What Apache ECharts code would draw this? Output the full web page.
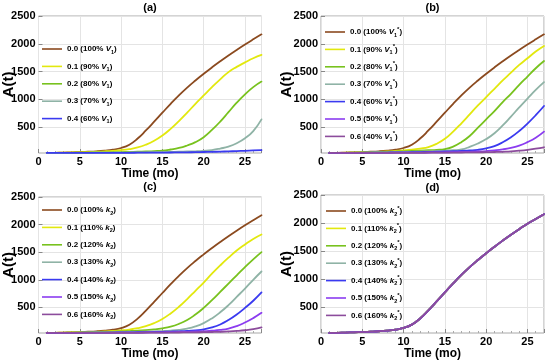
<!DOCTYPE html>
<html>
<head>
<meta charset="utf-8">
<script src="https://cdn.jsdelivr.net/npm/echarts@6/dist/echarts.min.js"></script>
<style>
  html, body { margin: 0; padding: 0; background: #fff; }
  #chart { width: 550px; height: 362px; }
</style>
</head>
<body>
<div id="chart"></div>
<script>
// ---- data ----
const months = [1,2,3,4,5,6,7,8,9,10,11,12,13,14,15,16,17,18,19,20,21,22,23,24,25,26,27];
const xTicks = [0,5,10,15,20,25];
const yTicks = [500,1000,1500,2000,2500];

// panel (a): fraction of V1
const labelsA = ['0.0 (100% V1)','0.1 (90% V1)','0.2 (80% V1)','0.3 (70% V1)','0.4 (60% V1)'];
const aV100 = [36,39,43,47,52,58,66,78,95,125,185,295,440,598,760,920,1072,1212,1340,1460,1575,1685,1790,1890,1987,2080,2170];
const aV90  = [36,38,41,44,48,52,58,65,74,86,105,135,185,255,350,470,610,760,920,1070,1220,1360,1490,1585,1665,1740,1800];
const aV80  = [36,37,38,39,41,43,45,47,49,52,55,59,64,70,78,98,125,170,230,320,450,600,770,940,1090,1220,1320];
const aV70  = [36,36,37,37,38,39,40,41,42,43,44,46,48,50,52,55,58,62,66,74,88,115,150,210,300,430,640];
const aV60  = [36,36,36,36,37,37,37,38,38,39,39,40,41,42,43,44,46,48,50,53,56,60,64,69,75,81,88];

// panel (b): fraction of V1*
const labelsB = ['0.0 (100% V1*)','0.1 (90% V1*)','0.2 (80% V1*)','0.3 (70% V1*)','0.4 (60% V1*)','0.5 (50% V1*)','0.6 (40% V1*)'];
const bV100 = [36,39,43,47,52,58,66,78,95,125,185,295,440,598,760,920,1072,1212,1340,1460,1575,1685,1790,1890,1987,2080,2170];
const bV90  = [36,38,40,43,47,51,56,63,72,82,95,115,142,200,290,420,570,730,890,1040,1190,1340,1480,1620,1740,1860,1960];
const bV80  = [36,37,39,41,44,47,51,55,60,66,72,78,85,92,105,150,230,340,490,640,790,950,1100,1260,1410,1560,1690];
const bV70  = [36,37,38,39,41,43,45,47,50,53,56,60,64,69,75,85,100,145,205,285,390,530,690,855,1015,1170,1310];
const bV60  = [36,36,37,38,39,40,42,43,45,47,49,52,55,58,62,67,73,80,92,118,160,228,318,430,565,715,880];
const bV50  = [36,36,36,37,37,38,38,39,40,41,42,43,44,46,48,50,53,57,62,70,82,100,128,168,230,310,420];
const bV40  = [36,36,36,36,36,37,37,37,38,38,39,39,40,41,42,43,44,46,48,50,53,57,63,76,92,112,138];

// panel (c): fraction of k2
const labelsC = ['0.0 (100% k2)','0.1 (110% k2)','0.2 (120% k2)','0.3 (130% k2)','0.4 (140% k2)','0.5 (150% k2)','0.6 (160% k2)'];
const cK100 = [36,39,43,47,52,58,66,78,95,125,185,295,440,598,760,920,1072,1212,1340,1460,1575,1685,1790,1890,1987,2080,2170];
const cK110 = [36,38,41,44,48,52,57,63,71,82,98,122,160,215,290,390,510,650,800,950,1110,1260,1400,1530,1640,1740,1820];
const cK120 = [36,37,39,41,44,47,50,54,58,63,70,78,88,100,120,150,200,270,370,490,630,780,930,1080,1230,1370,1500];
const cK130 = [36,37,38,39,40,42,44,46,48,50,53,56,60,65,70,78,92,115,155,215,300,410,540,690,840,1000,1150];
const cK140 = [36,36,37,38,39,40,41,42,43,45,47,49,51,54,57,61,66,73,84,100,135,190,270,370,490,620,770];
const cK150 = [36,36,36,37,37,38,38,39,40,41,42,43,44,46,48,50,53,57,62,68,76,90,115,160,225,305,400];
const cK160 = [36,36,36,36,36,37,37,37,38,38,39,39,40,41,42,43,44,46,48,50,53,57,63,72,85,105,135];

// panel (d): fraction of k2* (all curves coincide)
const labelsD = ['0.0 (100% k2*)','0.1 (110% k2*)','0.2 (120% k2*)','0.3 (130% k2*)','0.4 (140% k2*)','0.5 (150% k2*)','0.6 (160% k2*)'];
const dK100 = [36,39,43,47,52,58,66,78,95,125,185,295,440,598,760,920,1072,1212,1340,1460,1575,1685,1790,1890,1987,2070,2155];
const dK110 = [36,39,43,47,52,58,66,78,95,125,185,295,440,598,760,920,1072,1212,1340,1460,1575,1685,1790,1890,1987,2070,2155];
const dK120 = [36,39,43,47,52,58,66,78,95,125,185,295,440,598,760,920,1072,1212,1340,1460,1575,1685,1790,1890,1987,2070,2155];
const dK130 = [36,39,43,47,52,58,66,78,95,125,185,295,440,598,760,920,1072,1212,1340,1460,1575,1685,1790,1890,1987,2070,2155];
const dK140 = [36,39,43,47,52,58,66,78,95,125,185,295,440,598,760,920,1072,1212,1340,1460,1575,1685,1790,1890,1987,2070,2155];
const dK150 = [36,39,43,47,52,58,66,78,95,125,185,295,440,598,760,920,1072,1212,1340,1460,1575,1685,1790,1890,1987,2070,2155];
const dK160 = [36,39,43,47,52,58,66,78,95,125,185,295,440,598,760,920,1072,1212,1340,1460,1575,1685,1790,1890,1987,2070,2155];

const panelTitles = ['(a)','(b)','(c)','(d)'];

// ---- styling / layout ----
const colors = ['#8b4a1f','#e2e80e','#78c21e','#8fb3a6','#3a3af0','#8b3cf0','#8c4c9c'];
const FONT = 'Liberation Sans, Arial, sans-serif';
const layout = [
  {left: 38.5, top: 16,  width: 223, height: 137, legLeft: 42,  legTop: 43,  yNameGap: 22, titleY: 8},
  {left: 321,  top: 16,  width: 223, height: 137, legLeft: 325, legTop: 26,  yNameGap: 27, titleY: 8},
  {left: 38.5, top: 197, width: 223, height: 136, legLeft: 42,  legTop: 204, yNameGap: 22, titleY: 187},
  {left: 321,  top: 195, width: 223, height: 138, legLeft: 326, legTop: 205, yNameGap: 27, titleY: 188}
];
const panelData = [
  {labels: labelsA, sets: [aV100,aV90,aV80,aV70,aV60]},
  {labels: labelsB, sets: [bV100,bV90,bV80,bV70,bV60,bV50,bV40]},
  {labels: labelsC, sets: [cK100,cK110,cK120,cK130,cK140,cK150,cK160]},
  {labels: labelsD, sets: [dK100,dK110,dK120,dK130,dK140,dK150,dK160]}
];

function legendFmt(name) {
  const m = name.match(/^(.*% )([Vk])(\d)(\*?)\)$/);
  if (!m) return '{n|' + name + '}';
  let s = '{n|' + m[1] + '}{i|' + m[2] + '}{sub|' + m[3] + '}';
  if (m[4]) s += '{sup|' + m[4] + '}';
  return s + '{n|)}';
}

const grid = [], xAxis = [], yAxis = [], legend = [], series = [], graphic = [];
layout.forEach((L, p) => {
  grid.push({left: L.left, top: L.top, width: L.width, height: L.height, outerBoundsMode: 'none',
             containLabel: false,
             show: true, borderColor: '#a8a8a8', borderWidth: 1, backgroundColor: 'transparent'});
  xAxis.push({
    type: 'value', gridIndex: p, min: 0, max: 27, interval: 5,
    name: 'Time (mo)', nameLocation: 'middle', nameGap: 15, nameMoveOverlap: false,
    nameTextStyle: {fontFamily: FONT, fontWeight: 'bold', fontSize: 12, color: '#000'},
    axisLine: {show: false},
    axisTick: {show: true, inside: true, length: 4, lineStyle: {color: '#888'}},
    minorTick: {show: true, splitNumber: 5, length: 2, lineStyle: {color: '#aaa'}},
    axisLabel: {showMaxLabel: false, margin: 3, fontFamily: FONT, fontWeight: 'bold', fontSize: 11, color: '#000'},
    splitLine: {show: true, lineStyle: {color: '#e4e4e4', width: 1}}
  });
  yAxis.push({
    type: 'value', gridIndex: p, min: 35, max: 2500,
    name: 'A(t)', nameLocation: 'middle', nameGap: L.yNameGap, nameMoveOverlap: false,
    nameTextStyle: {fontFamily: FONT, fontWeight: 'bold', fontSize: 15, color: '#000'},
    axisLine: {show: false},
    axisTick: {show: true, inside: true, length: 4, customValues: yTicks, lineStyle: {color: '#888'}},
    axisLabel: {customValues: yTicks, margin: 3, formatter: v => String(v),
                fontFamily: FONT, fontWeight: 'bold', fontSize: 11, color: '#000'},
    splitLine: {show: true, lineStyle: {color: '#e4e4e4', width: 1}}
  });
  const D = panelData[p];
  legend.push({
    orient: 'vertical', left: L.legLeft, top: L.legTop, padding: 0,
    icon: 'rect', itemWidth: 20, itemHeight: 1.6, itemGap: 5.4,
    data: D.labels, selectedMode: false, formatter: legendFmt,
    textStyle: {
      fontFamily: FONT, fontWeight: 'bold', fontSize: 8, color: '#000', lineHeight: 12,
      rich: {
        n: {fontFamily: FONT, fontWeight: 'bold', fontSize: 8, color: '#000', lineHeight: 12},
        i: {fontFamily: FONT, fontWeight: 'bold', fontStyle: 'italic', fontSize: 8, color: '#000', lineHeight: 12},
        sub: {fontFamily: FONT, fontWeight: 'bold', fontSize: 5.5, color: '#000', lineHeight: 8, verticalAlign: 'bottom'},
        sup: {fontFamily: FONT, fontWeight: 'bold', fontSize: 6, color: '#000', lineHeight: 8, verticalAlign: 'top'}
      }
    }
  });
  D.sets.forEach((arr, k) => {
    series.push({
      type: 'line', name: D.labels[k], xAxisIndex: p, yAxisIndex: p,
      data: months.map((m, j) => [m, arr[j]]),
      smooth: 0.5, symbol: 'none', clip: true,
      lineStyle: {color: colors[k], width: 1.8, join: 'round', cap: 'round'}, itemStyle: {color: colors[k]},
      silent: true, animation: false
    });
  });
  graphic.push({
    type: 'text', x: L.left + L.width / 2, y: L.titleY,
    style: {text: panelTitles[p], textAlign: 'center', textVerticalAlign: 'middle',
            font: 'bold 11px ' + FONT, fill: '#000'}
  });
});

const chart = echarts.init(document.getElementById('chart'), null, {renderer: 'canvas'});
chart.setOption({
  animation: false, backgroundColor: '#fff',
  grid, xAxis, yAxis, legend, series, graphic
});
</script>
</body>
</html>
